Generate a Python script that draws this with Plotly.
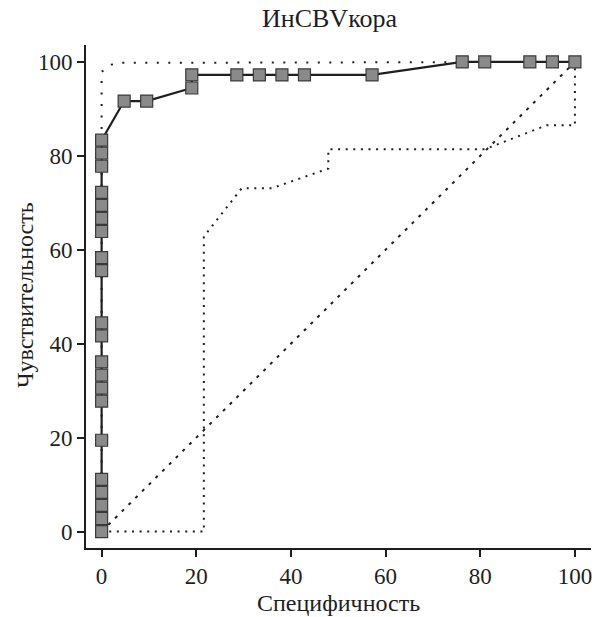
import plotly.graph_objects as go

# ROC curve (x = 100 - specificity, y = sensitivity)
roc_x = [0, 0, 0, 0, 0, 0, 0, 0, 0, 0, 0, 0, 0, 0, 0, 0, 0, 0, 0, 0, 0,
         4.76, 9.52, 19.05, 19.05, 28.57, 33.33, 38.10, 42.86, 57.14,
         76.19, 80.95, 90.48, 95.24, 100]
roc_y = [0, 2.78, 5.56, 8.33, 11.11, 19.44, 27.78, 30.56, 33.33, 36.11,
         41.67, 44.44, 55.56, 58.33, 63.89, 66.67, 69.44, 72.22, 77.78,
         80.56, 83.33, 91.67, 91.67, 94.44, 97.22, 97.22, 97.22, 97.22,
         97.22, 97.22, 100, 100, 100, 100, 100]

# confidence band
upper_x = [0, 0, 2.0, 4.0, 100]
upper_y = [0, 97.9, 99.4, 99.8, 100]
lower_x = [0, 21.6, 21.6, 29.6, 36.0, 47.9, 47.9, 81.0, 94.0, 100, 100]
lower_y = [0, 0, 62.8, 73.1, 73.1, 77.3, 81.4, 81.4, 86.5, 86.5, 100]

diag_x = [0, 100]
diag_y = [0, 100]

ticks = [0, 20, 40, 60, 80, 100]

title_text = "ИнCBVкора"
x_title = "Специфичность"
y_title = "Чувствительность"

FONT = "Liberation Serif"
INK = "#1e1e1e"
W, H = 603, 617
ML, MR, MT, MB = 86, 12, 45, 69
PW, PH = W - ML - MR, H - MT - MB

fig = go.Figure()
fig.add_trace(go.Scatter(x=upper_x, y=upper_y, mode="lines",
                         line=dict(color=INK, width=2, dash="2px,9.5px"),
                         hoverinfo="skip"))
fig.add_trace(go.Scatter(x=lower_x, y=lower_y, mode="lines",
                         line=dict(color=INK, width=2, dash="2px,5.6px"),
                         hoverinfo="skip"))
fig.add_trace(go.Scatter(x=diag_x, y=diag_y, mode="lines",
                         line=dict(color=INK, width=2, dash="3px,6.5px"),
                         hoverinfo="skip"))
fig.add_trace(go.Scatter(x=roc_x, y=roc_y, mode="lines+markers",
                         line=dict(color=INK, width=2.2),
                         marker=dict(symbol="square", size=12, color="#8a8a8a",
                                     line=dict(color="#3a3a3a", width=1.2))))

axis_common = dict(
    showline=True, linecolor=INK, linewidth=1.6,
    ticks="outside", ticklen=7, tickwidth=1.6, tickcolor=INK,
    tickvals=ticks, ticktext=[str(t) for t in ticks],
    showgrid=False, zeroline=False, automargin=False,
    tickfont=dict(family=FONT, size=23, color=INK),
)

fig.update_layout(
    width=W, height=H,
    margin=dict(l=ML, r=MR, t=MT, b=MB, autoexpand=False),
    paper_bgcolor="white", plot_bgcolor="white",
    showlegend=False,
    font=dict(family=FONT, color=INK),
    xaxis=dict(range=[-3.3, 103.4], **axis_common),
    yaxis=dict(range=[-3.5, 103.6], **axis_common),
    annotations=[
        dict(text=title_text, xref="paper", yref="paper",
             x=(329 - ML) / PW, y=1 + (MT - 18) / PH,
             xanchor="center", yanchor="middle", showarrow=False,
             font=dict(family=FONT, size=26, color=INK)),
        dict(text=x_title, xref="paper", yref="paper",
             x=(338 - ML) / PW, y=-(603 - (H - MB)) / PH,
             xanchor="center", yanchor="middle", showarrow=False,
             font=dict(family=FONT, size=24, color=INK)),
        dict(text=y_title, xref="paper", yref="paper", textangle=-90,
             x=-(ML - 25) / PW, y=(H - MB - 295) / PH,
             xanchor="center", yanchor="middle", showarrow=False,
             font=dict(family=FONT, size=24, color=INK)),
    ],
)

fig.write_html("out.html",
               config={"displayModeBar": False},
               post_script="document.body.style.margin='0';document.body.style.overflow='hidden';")
